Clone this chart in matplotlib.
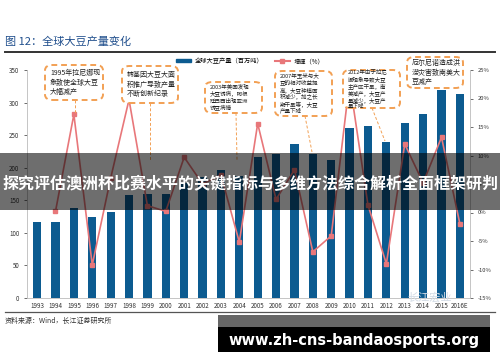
import numpy as np
import matplotlib
matplotlib.use('Agg')
import matplotlib.pyplot as plt
from matplotlib.patches import FancyBboxPatch, Rectangle, Patch
from matplotlib.lines import Line2D

plt.rcParams['font.family'] = ['Noto Sans CJK SC', 'DejaVu Sans']

years = ['1993', '1994', '1995', '1996', '1997', '1998', '1999', '2000', '2001', '2002',
         '2003', '2004', '2005', '2006', '2007', '2008', '2009', '2010', '2011', '2012',
         '2013', '2014', '2015', '2016E']
output = [117, 117, 138, 125, 132, 158, 160, 160, 176, 185,
          197, 187, 216, 221, 237, 221, 212, 261, 264, 240,
          269, 283, 320, 313]
growth = [np.nan, 0.2, 17.2, -9.2, 6.0, 19.8, 1.2, 0.2, 9.7, 5.0,
          6.6, -5.2, 15.6, 2.3, 7.5, -6.9, -4.1, 23.0, 1.3, -9.0,
          12.0, 5.2, 13.2, -2.0]
notes = ['1995年拉尼娜现\n象致使全球大豆\n大幅减产',
         '转基因大豆大面\n积推广导致产量\n不断创新纪录',
         '2003年美国发现\n大豆锈病，阿根\n廷巴西出现亚洲\n锈豆病情',
         '2007年玉米与大\n豆的相对收益提\n高，大豆种植面\n积减少，加之长\n期干旱等，大豆\n产量下降',
         '2012年由于拉尼\n娜现象导致大豆\n主产区干旱，南\n美减产，大豆产\n量减少，大豆产\n量下降',
         '厄尔尼诺造成洪\n涝灾害致南美大\n豆减产']

W, H = 500, 362
fig = plt.figure(figsize=(5, 3.62), dpi=100)

def fx(px):
    return px / W

def fy(py):
    return 1 - py / H

ax = fig.add_axes([fx(27), fy(298), fx(470) - fx(27), fy(70) - fy(298)])
x = np.arange(len(years))
ax.bar(x, output, width=0.45, color='#0C5B90', zorder=2)
ax.set_xlim(-0.55, 23.55)
ax.set_ylim(0, 350)
ax.set_yticks(range(0, 351, 50))
ax.set_xticks(x)
ax.set_xticklabels(years, fontsize=4.5, color='#333333')
ax.tick_params(axis='y', labelsize=4.5, colors='#333333', length=2, width=0.5)
ax.tick_params(axis='x', length=0, pad=3)
for s in ['top', 'right']:
    ax.spines[s].set_visible(False)
for s in ['left', 'bottom']:
    ax.spines[s].set_color('#BBBBBB')
    ax.spines[s].set_linewidth(0.6)

ax2 = ax.twinx()
ax2.plot(x, growth, color='#E8777A', lw=1.2, marker='s', ms=3, zorder=5)
ax2.set_ylim(-15, 25)
ax2.set_yticks(range(-15, 26, 5))
ax2.set_yticklabels([f'{v}%' for v in range(-15, 26, 5)])
ax2.tick_params(axis='y', labelsize=4.2, colors='#333333', length=2, width=0.5)
for s in ['top', 'left', 'bottom']:
    ax2.spines[s].set_visible(False)
ax2.spines['right'].set_color('#BBBBBB')
ax2.spines['right'].set_linewidth(0.6)
ax2.set_zorder(ax.get_zorder() + 1)
ax2.patch.set_visible(False)

# annotation boxes (pixel layout), leader ends
orange = '#F2A054'
boxes = [(45, 65, 103, 100, 5.0, (75, 100), (75, 114)),
         (122, 66, 178, 103, 5.0, (150, 103), (150, 160)),
         (205, 82, 262, 113, 4.0, (236, 113), (237, 160)),
         (275, 71, 332, 116, 4.0, (305, 116), (312, 152)),
         (343, 70, 400, 108, 4.0, (372, 108), (385, 141)),
         (407, 57, 463, 88, 5.0, None, None)]
for (x0, y0, x1, y1, fs, p0, p1), txt in zip(boxes, notes):
    fig.patches.append(FancyBboxPatch((fx(x0), fy(y1)), fx(x1 - x0), (y1 - y0) / H,
                                      boxstyle='round,pad=0,rounding_size=0.015',
                                      transform=fig.transFigure, facecolor='white',
                                      edgecolor=orange, lw=1.4, ls=(0, (3, 2)), zorder=3))
    fig.text(fx(x0 + 5), fy((y0 + y1) / 2), txt, fontsize=fs, va='center', ha='left',
             color='#222222', linespacing=1.25, zorder=4)
    if p0 is not None:
        fig.lines.append(Line2D([fx(p0[0]), fx(p1[0])], [fy(p0[1]), fy(p1[1])],
                                transform=fig.transFigure, color=orange, lw=0.7,
                                ls=(0, (3, 2)), zorder=3))

# legend
handles = [Patch(color='#0C5B90', label='全球大豆产量（百万吨）'),
           Line2D([], [], color='#E8777A', lw=1.5, marker='s', ms=3, label='增速（%）')]
fig.legend(handles=handles, loc='center', bbox_to_anchor=(fx(250), fy(61)), ncol=2,
           frameon=False, fontsize=4.5, handlelength=2.4, handleheight=0.45,
           columnspacing=1.8, handletextpad=0.6)

# title and rules
fig.text(fx(5), fy(42), '图 12：全球大豆产量变化', fontsize=8, color='#1F4E8C',
         va='center', ha='left')
fig.lines.append(Line2D([fx(5), fx(495)], [fy(52), fy(52)], transform=fig.transFigure,
                        color='#333333', lw=1.4))
fig.lines.append(Line2D([fx(5), fx(495)], [fy(312), fy(312)], transform=fig.transFigure,
                        color='#555555', lw=0.9))
fig.text(fx(5), fy(321), '资料来源：Wind，长江证券研究所', fontsize=5, color='#333333',
         va='center', ha='left')
fig.text(fx(430), fy(297), '长江宏业', fontsize=8, color='#D3DCE6', va='center',
         ha='center', zorder=1)

# overlay banner
fig.patches.append(Rectangle((0, fy(210)), 1, 57 / H, transform=fig.transFigure,
                             facecolor='black', alpha=0.57, zorder=10))
fig.text(0.5, fy(184), '探究评估澳洲杯比赛水平的关键指标与多维方法综合解析全面框架研判',
         fontsize=11.5, fontweight='bold', color='white', ha='center', va='center', zorder=11)

# footer
fig.patches.append(Rectangle((fx(218), fy(327)), fx(272), 12 / H, transform=fig.transFigure,
                             facecolor='#666666', zorder=10))
fig.patches.append(Rectangle((fx(218), fy(352)), fx(272), 25 / H, transform=fig.transFigure,
                             facecolor='black', zorder=10))
fig.text(fx(354), fy(340), 'www.zh-cns-bandaosports.org', fontsize=10.5, fontweight='bold',
         color='white', ha='center', va='center', zorder=11, family='DejaVu Sans')

fig.savefig('out.png', dpi=100)
